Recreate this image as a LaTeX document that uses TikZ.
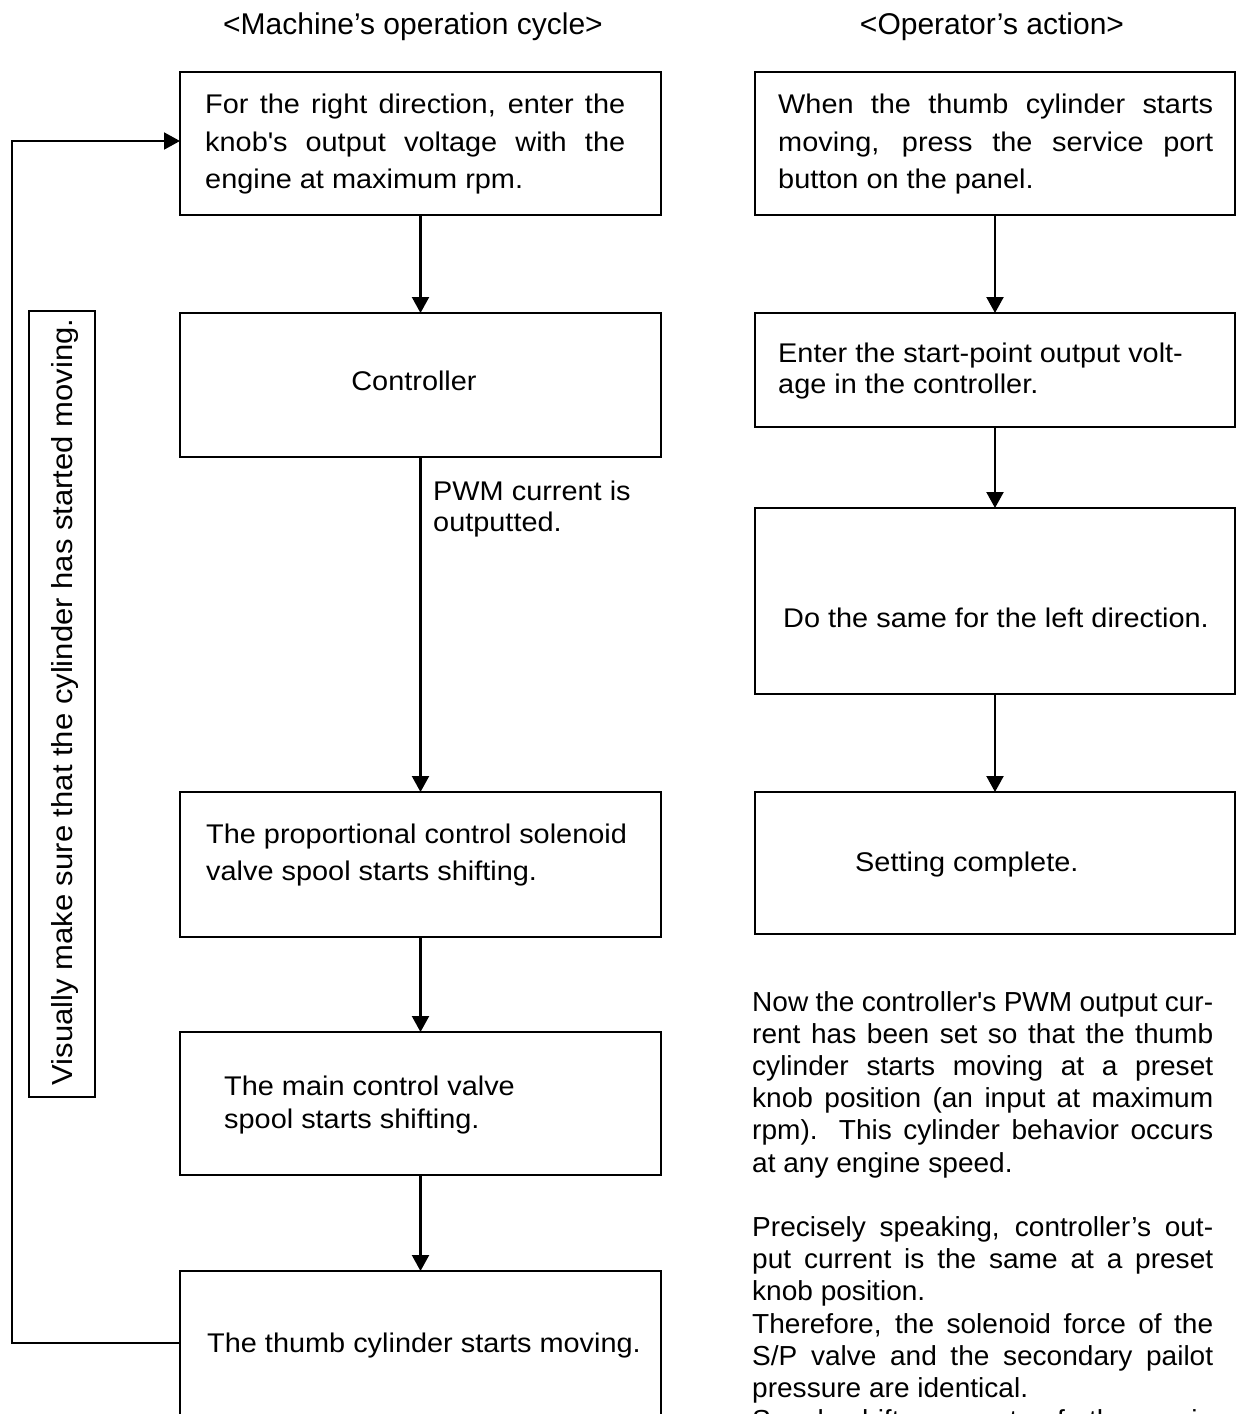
\documentclass[tikz,border=0pt]{standalone}
\usepackage{fontspec}
\setmainfont{Liberation Sans}
\newfontfamily\bxfont[FakeStretch=1.07]{Liberation Sans}
\newfontfamily\pafont[FakeStretch=1.02]{Liberation Sans}
\newfontfamily\hdfont{Liberation Sans}
\usetikzlibrary{arrows.meta}
\newcommand\jline[2]{\makebox[#1pt][s]{#2}}
\begin{document}
\begin{tikzpicture}[x=1pt,y=-1pt,
  flow/.style={draw, line width=2.9pt, inner sep=0pt, outer sep=0pt, anchor=north west},
  arr/.style={line width=2.2pt, -{Triangle[length=16pt,width=17pt]}},
  fb/.style={line width=2pt, -{Triangle[length=16pt,width=17pt]}},
  txt/.style={anchor=base west, inner sep=0pt, font=\bxfont\fontsize{27}{32}\selectfont},
  ptxt/.style={anchor=base west, inner sep=0pt, font=\pafont\fontsize{27.5}{32}\selectfont},
  ctxt/.style={anchor=base, inner sep=0pt, font=\bxfont\fontsize{27}{32}\selectfont},
  hd/.style={anchor=base, inner sep=0pt, font=\hdfont\fontsize{30}{36}\selectfont}]
\fill[white] (0,0) rectangle (1238,1414);
\useasboundingbox (0,0) rectangle (1238,1414);
\clip (0,0) rectangle (1238,1414);

% headers
\node[hd] (h1) at (413,34) {<Machine’s operation cycle>};
\node[hd] (h2) at (992,34) {<Operator’s action>};

% left column boxes
\node[flow, minimum width=481pt, minimum height=143pt] (b1) at (180,72) {};
\node[flow, minimum width=481pt, minimum height=144pt] (b2) at (180,313) {};
\node[flow, minimum width=481pt, minimum height=145pt] (b3) at (180,792) {};
\node[flow, minimum width=481pt, minimum height=143pt] (b4) at (180,1032) {};
\node[flow, minimum width=481pt, minimum height=200pt] (b5) at (180,1271) {};
\node[flow, minimum width=66pt, minimum height=786pt] (side) at (29,311) {};

% right column boxes
\node[flow, minimum width=480pt, minimum height=143pt] (r1) at (755,72) {};
\node[flow, minimum width=480pt, minimum height=114pt] (r2) at (755,313) {};
\node[flow, minimum width=480pt, minimum height=186pt] (r3) at (755,508) {};
\node[flow, minimum width=480pt, minimum height=142pt] (r4) at (755,792) {};

% left texts
\node[txt] (t1a) at (205,113) {\jline{420}{For the right direction, enter the}};
\node[txt] (t1b) at (205,151) {\jline{420}{knob\textquotesingle s output voltage with the}};
\node[txt] (t1c) at (205,188) {engine at maximum rpm.};
\node[ctxt] (t2) at (414,390) {Controller};
\node[txt] (lab1) at (433,500) {PWM current is};
\node[txt] (lab2) at (433,531) {outputted.};
\node[txt] (t3a) at (206,843) {The proportional control solenoid};
\node[txt] (t3b) at (206,880) {valve spool starts shifting.};
\node[txt] (t4a) at (224,1095) {The main control valve};
\node[txt] (t4b) at (224,1128) {spool starts shifting.};
\node[txt] (t5) at (207,1352) {The thumb cylinder starts moving.};
\node[rotate=90, anchor=base, inner sep=0pt, font=\bxfont\fontsize{29}{34}\selectfont] (sidet) at (72,702) {Visually make sure that the cylinder has started moving.};

% right texts
\node[txt] (s1a) at (778,113) {\jline{435}{When the thumb cylinder starts}};
\node[txt] (s1b) at (778,151) {\jline{435}{moving, press the service port}};
\node[txt] (s1c) at (778,188) {button on the panel.};
\node[txt] (s2a) at (778,362) {Enter the start-point output volt-};
\node[txt] (s2b) at (778,393) {age in the controller.};
\node[txt] (s3) at (783,627) {Do the same for the left direction.};
\node[txt] (s4) at (855,871) {Setting complete.};

% paragraph
\node[ptxt] (p1) at (752,1011) {\jline{461}{Now the controller\textquotesingle s PWM output cur-}};
\node[ptxt] (p2) at (752,1043.2) {\jline{461}{rent has been set so that the thumb}};
\node[ptxt] (p3) at (752,1075.4) {\jline{461}{cylinder starts moving at a preset}};
\node[ptxt] (p4) at (752,1107.6) {\jline{461}{knob position (an input at maximum}};
\node[ptxt] (p5) at (752,1139.8) {\jline{461}{rpm). This cylinder behavior occurs}};
\node[ptxt] (p6) at (752,1172) {at any engine speed.};
\node[ptxt] (p8) at (752,1236.4) {\jline{461}{Precisely speaking, controller’s out-}};
\node[ptxt] (p9) at (752,1268.6) {\jline{461}{put current is the same at a preset}};
\node[ptxt] (p10) at (752,1300.8) {knob position.};
\node[ptxt] (p11) at (752,1333) {\jline{461}{Therefore, the solenoid force of the}};
\node[ptxt] (p12) at (752,1365.2) {\jline{461}{S/P valve and the secondary pailot}};
\node[ptxt] (p13) at (752,1397.4) {pressure are identical.};
\node[ptxt] (p14) at (752,1429.6) {\jline{461}{Spool shift amount of the main}};

% connectors
\draw[arr] (b1.south) -- (b2.north);
\draw[arr] (b2.south) -- (b3.north);
\draw[arr] (b3.south) -- (b4.north);
\draw[arr] (b4.south) -- (b5.north);
\draw[arr] (r1.south) -- (r2.north);
\draw[arr] (r2.south) -- (r3.north);
\draw[arr] (r3.south) -- (r4.north);
\draw[fb] ([yshift=-72pt]b5.north west) -- ++(-168,0) |- ([yshift=-69pt]b1.north west);
\end{tikzpicture}
\end{document}
